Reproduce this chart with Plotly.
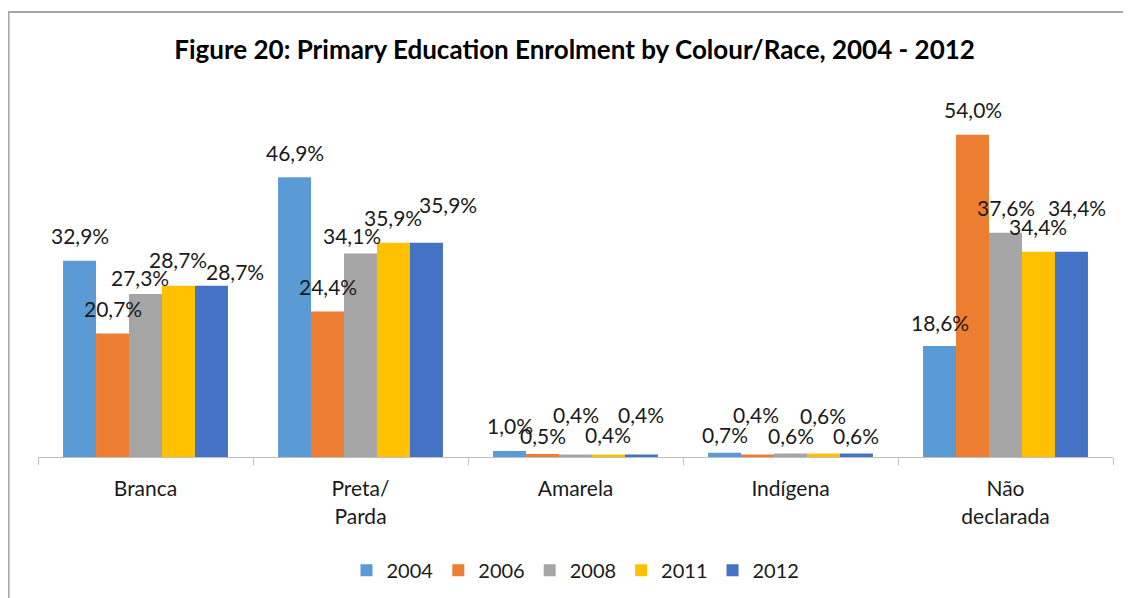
import plotly.graph_objects as go

categories = ["Branca", "Preta/<br>Parda", "Amarela", "Indígena", "Não<br>declarada"]
years = ["2004", "2006", "2008", "2011", "2012"]
v2004 = [32.9, 46.9, 1.0, 0.7, 18.6]
v2006 = [20.7, 24.4, 0.5, 0.4, 54.0]
v2008 = [27.3, 34.1, 0.4, 0.6, 37.6]
v2011 = [28.7, 35.9, 0.4, 0.6, 34.4]
v2012 = [28.7, 35.9, 0.4, 0.6, 34.4]
series = [v2004, v2006, v2008, v2011, v2012]
colors = ["#5B9BD5", "#ED7D31", "#A5A5A5", "#FFC000", "#4472C4"]

# data-label nudges (pixels) as placed in the original chart, per series
label_dx = [[0, 0, 0, 0, 0],
            [0, 0, 0, -2, 0],
            [-6, -9, 0, 0, 0],
            [0, 0, 0, 0, 0],
            [24, 22, 0, 0, 6]]
label_dy = [[25, 25, 26, 18, 24],
            [25, 25, 19, 40, 25],
            [17, 18, 40, 18, 25],
            [26, 25, 20, 38, 25],
            [14, 38, 40, 18, 44]]

FONT = "Lato"
BARGAP = 0.233
n = len(series)
bw = (1 - BARGAP) / n

fig = go.Figure()
for name, vals, col in zip(years, series, colors):
    fig.add_trace(go.Bar(
        x=categories, y=vals, name=name,
        marker=dict(color=col, line=dict(width=0)),
        cliponaxis=False,
    ))

for i, vals in enumerate(series):
    for k, v in enumerate(vals):
        fig.add_annotation(
            x=k + (i - (n - 1) / 2) * bw, y=v, xref="x", yref="y",
            text=f"{v:.1f}%".replace(".", ","), showarrow=False,
            xanchor="center", yanchor="middle",
            xshift=label_dx[i][k], yshift=label_dy[i][k],
            font=dict(family=FONT, size=21, color="#1a1a1a"),
        )

fig.update_layout(
    width=1131, height=598,
    paper_bgcolor="white", plot_bgcolor="white",
    barmode="group", bargap=BARGAP, bargroupgap=0,
    margin=dict(l=30, r=26, t=91, b=149, autoexpand=False),
    title=dict(text="<b>Figure 20: Primary Education Enrolment by Colour/Race, 2004 - 2012</b>",
               x=0.501, xanchor="center", y=0.93, yanchor="middle",
               font=dict(family=FONT, size=26, color="#000000")),
    font=dict(family=FONT, size=21, color="#1a1a1a"),
    legend=dict(orientation="h", x=0.5, xanchor="center", y=-0.316, yanchor="middle",
                font=dict(family=FONT, size=20, color="#1a1a1a"),
                itemwidth=30, traceorder="normal"),
)
fig.update_xaxes(
    showline=True, linecolor="#bfbfbf", linewidth=1,
    ticks="outside", tickson="boundaries", ticklen=7, tickcolor="#bfbfbf", tickwidth=1,
    ticklabelstandoff=13,
    tickfont=dict(family=FONT, size=21, color="#1a1a1a"),
    showgrid=False,
)
fig.update_yaxes(range=[0, 60], visible=False, showgrid=False)

fig.add_shape(type="rect", xref="paper", yref="paper",
              x0=-0.0274, x1=1.2, y0=-0.6, y1=1.243,
              line=dict(color="#a6a6a6", width=2), fillcolor="rgba(0,0,0,0)", layer="below")

fig.write_html("out.html")
